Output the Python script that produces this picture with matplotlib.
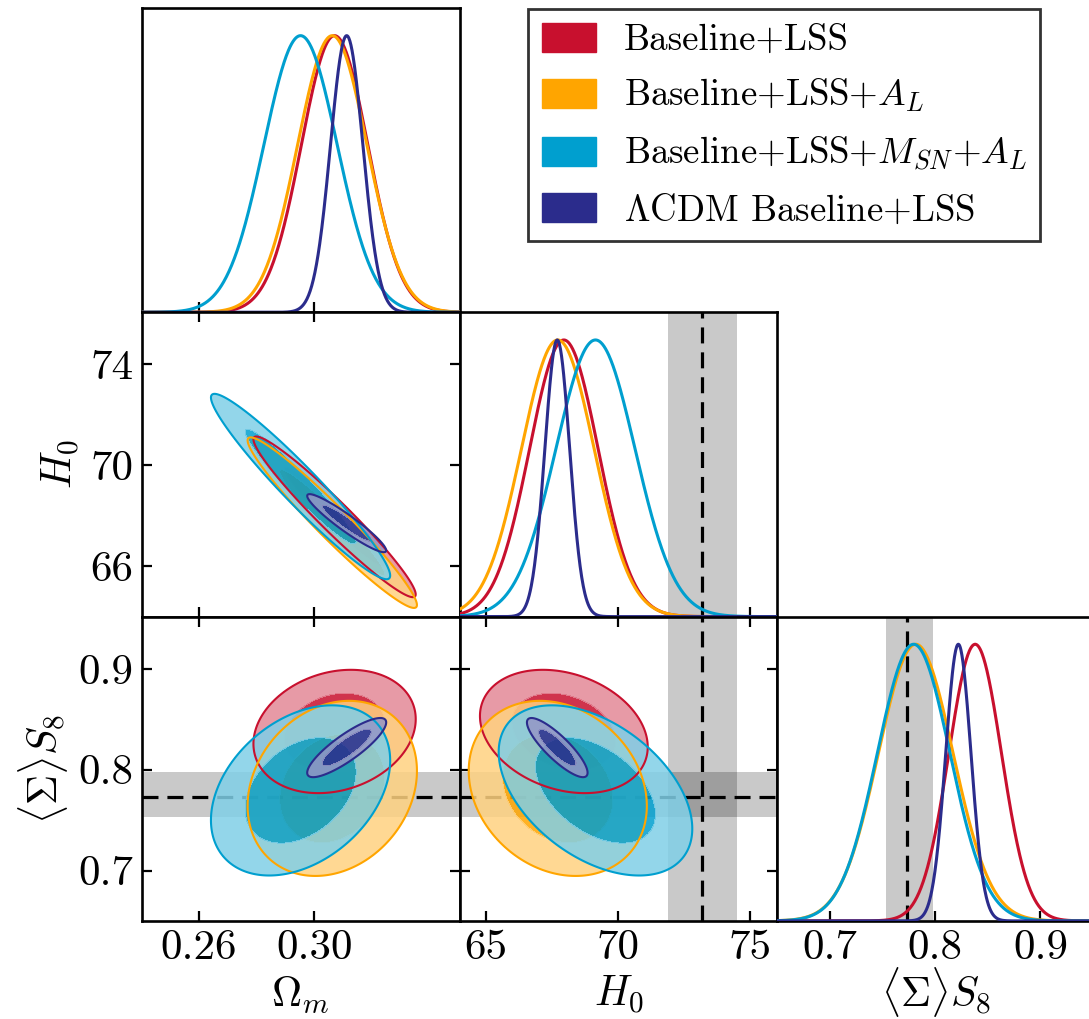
import numpy as np
import matplotlib
matplotlib.use("Agg")
import matplotlib.pyplot as plt
from matplotlib.patches import Patch
from matplotlib.colors import to_rgb

plt.rcParams.update({
    "font.family": "serif",
    "font.serif": ["cmr10"],
    "mathtext.fontset": "cm",
    "axes.unicode_minus": False,
    "axes.formatter.use_mathtext": True,
})

# ---- chains summarised as Gaussian posteriors ----
series_labels = [
    "Baseline+LSS",
    r"Baseline+LSS+$A_L$",
    r"Baseline+LSS+$M_{SN}$+$A_L$",
    r"$\Lambda$CDM Baseline+LSS",
]
series_colors = ["#C8102E", "#FFA500", "#009FCF", "#2B2C8C"]

mean_omega_m = [0.3070, 0.3062, 0.2952, 0.3112]
mean_h0 = [67.95, 67.72, 69.15, 67.70]
mean_s8 = [0.838, 0.7815, 0.7795, 0.822]

sigma_omega_m = [0.0115, 0.0120, 0.0127, 0.0056]
sigma_h0 = [1.30, 1.38, 1.50, 0.47]
sigma_s8 = [0.0250, 0.0355, 0.0345, 0.0120]

corr_om_h0 = [-0.965, -0.965, -0.96, -0.94]
corr_om_s8 = [0.20, 0.20, 0.35, 0.85]
corr_h0_s8 = [-0.25, -0.20, -0.45, -0.85]

# external measurements shown as bands
h0_ref = 73.2
h0_band = (71.9, 74.5)
s8_ref = 0.773
s8_band = (0.753, 0.798)

param_labels = [r"$\Omega_m$", r"$H_0$", r"$\langle\Sigma\rangle S_8$"]
param_ranges = [(0.2402, 0.3504), (64.0, 76.05), (0.650, 0.952)]
x_ticks = [[0.26, 0.30], [65, 70, 75], [0.7, 0.8, 0.9]]
x_ticklabels = [["0.26", "0.30"], ["65", "70", "75"], ["0.7", "0.8", "0.9"]]
y_ticks = [None, [66, 70, 74], [0.7, 0.8, 0.9]]
y_ticklabels = [None, ["66", "70", "74"], ["0.7", "0.8", "0.9"]]

means = [mean_omega_m, mean_h0, mean_s8]
sigmas = [sigma_omega_m, sigma_h0, sigma_s8]
corrs = {(0, 1): corr_om_h0, (0, 2): corr_om_s8, (1, 2): corr_h0_s8}

W, H = 1089, 1019
fig = plt.figure(figsize=(W / 100, H / 100), dpi=100)

X0, Y0, CW, RH = 142.0, 8.0, 317.7, 304.3
SPINE_W = 1.9
TICK_FS = 31
LABEL_FS = 30
REF_LS = (0, (5, 2.8))
XLABEL_BASELINE = 1006.5  # pixel row of the x-label baselines


def panel(col, row):
    ax = fig.add_axes([(X0 + col * CW) / W, 1 - (Y0 + (row + 1) * RH) / H, CW / W, RH / H])
    for s in ax.spines.values():
        s.set_linewidth(SPINE_W)
    return ax


def lighten(c, f=0.5):
    r = np.array(to_rgb(c))
    return tuple(r * f + (1 - f))


def band_v(ax, p):
    if p == 1:
        ax.axvspan(*h0_band, color="k", alpha=0.21, lw=0, zorder=0.5)
        ax.axvline(h0_ref, color="k", lw=2.3, ls=REF_LS, zorder=1)
    elif p == 2:
        ax.axvspan(*s8_band, color="k", alpha=0.21, lw=0, zorder=0.5)
        ax.axvline(s8_ref, color="k", lw=2.3, ls=REF_LS, zorder=1)


def band_h(ax, p):
    if p == 2:
        ax.axhspan(*s8_band, color="k", alpha=0.21, lw=0, zorder=0.5)
        ax.axhline(s8_ref, color="k", lw=2.3, ls=REF_LS, zorder=1)


def bottom_label(ax, text):
    ax.set_xlabel(text, fontsize=LABEL_FS)
    bottom_px = Y0 + 3 * RH
    ax.xaxis.set_label_coords(0.5, -(XLABEL_BASELINE - bottom_px) / RH)
    ax.xaxis.label.set_verticalalignment("baseline")


n = 3
for i in range(n):
    for j in range(i + 1):
        ax = panel(j, i)
        if i == j:
            # marginalised 1D posterior
            lo, hi = param_ranges[i]
            x = np.linspace(lo, hi, 600)
            band_v(ax, i)
            for k, c in enumerate(series_colors):
                m, s = means[i][k], sigmas[i][k]
                ax.plot(x, np.exp(-0.5 * ((x - m) / s) ** 2), color=c, lw=2.2, zorder=3 + k)
            ax.set_xlim(lo, hi)
            ax.set_ylim(0, 1.1)
            ax.set_yticks([])
            ax.set_xticks(x_ticks[i])
            ax.tick_params(axis="x", direction="in", length=7, width=1.6, top=False, bottom=True,
                           labelsize=TICK_FS, pad=6)
            if i == n - 1:
                ax.set_xticklabels(x_ticklabels[i])
                bottom_label(ax, param_labels[i])
            else:
                ax.set_xticklabels([])
        else:
            # joint 2D posterior: x = param j, y = param i
            xlo, xhi = param_ranges[j]
            ylo, yhi = param_ranges[i]
            gx = np.linspace(xlo, xhi, 400)
            gy = np.linspace(ylo, yhi, 400)
            GX, GY = np.meshgrid(gx, gy)
            band_v(ax, j)
            band_h(ax, i)
            for k, c in enumerate(series_colors):
                mx, my = means[j][k], means[i][k]
                sx, sy = sigmas[j][k], sigmas[i][k]
                r = corrs[(j, i)][k]
                cov = np.array([[sx * sx, r * sx * sy], [r * sx * sy, sy * sy]])
                inv = np.linalg.inv(cov)
                dx, dy = GX - mx, GY - my
                chi2 = inv[0, 0] * dx * dx + 2 * inv[0, 1] * dx * dy + inv[1, 1] * dy * dy
                ax.contourf(GX, GY, chi2, levels=[0, 2.30, 5.99],
                            colors=[to_rgb(c), lighten(c)], alpha=0.85, zorder=2 + k)
                ax.contour(GX, GY, chi2, levels=[5.99], colors=[c], linewidths=1.5, zorder=10 + k)
            ax.set_xlim(xlo, xhi)
            ax.set_ylim(ylo, yhi)
            ax.set_xticks(x_ticks[j])
            ax.set_yticks(y_ticks[i])
            ax.tick_params(direction="in", length=7, width=1.6, top=True, right=True,
                           labelsize=TICK_FS, pad=6)
            if i == n - 1:
                ax.set_xticklabels(x_ticklabels[j])
                bottom_label(ax, param_labels[j])
            else:
                ax.set_xticklabels([])
            if j == 0:
                ax.set_yticklabels(y_ticklabels[i])
                ax.set_ylabel(param_labels[i], fontsize=LABEL_FS, labelpad=6)
            else:
                ax.set_yticklabels([])

handles = [Patch(facecolor=c, edgecolor=c) for c in series_colors]
leg = fig.legend(handles, series_labels, loc="upper left",
                 bbox_to_anchor=(528 / W, 1 - 9 / H), bbox_transform=fig.transFigure,
                 fontsize=26.5, frameon=True, fancybox=False, framealpha=1,
                 edgecolor="#333333", borderpad=0.37, handlelength=1.49, handleheight=0.84,
                 handletextpad=0.74, labelspacing=0.55, borderaxespad=0)
leg.get_frame().set_linewidth(2.0)

fig.savefig("out.png", dpi=100)
